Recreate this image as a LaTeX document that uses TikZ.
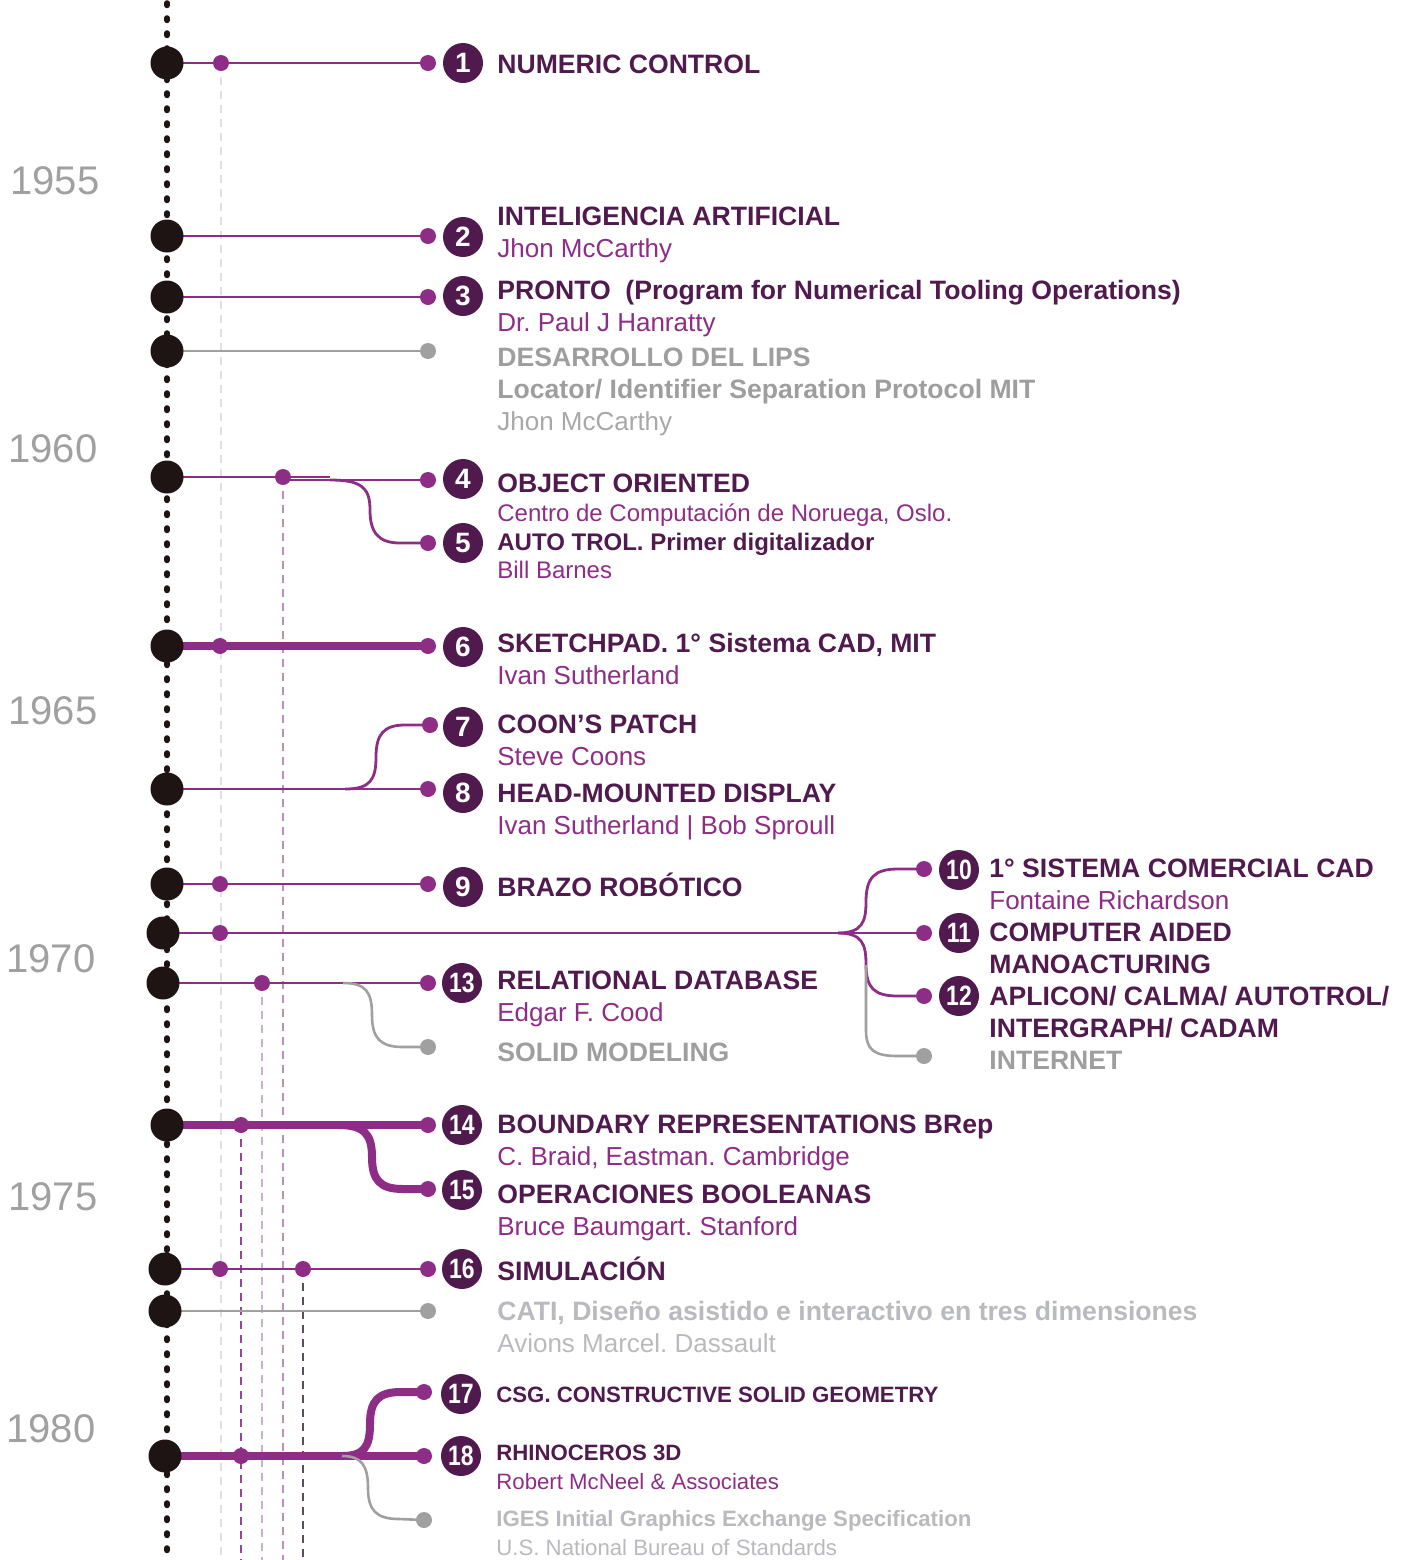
\documentclass[tikz,border=0pt]{standalone}
\usepackage{fontspec}
\usepackage{graphicx}
\setmainfont{Liberation Sans}
\pgfdeclarelayer{bg}
\pgfsetlayers{bg,main}
\definecolor{blk}{RGB}{30,20,20}
\definecolor{dpurp}{RGB}{80,26,78}
\definecolor{lpurp}{RGB}{142,45,134}
\definecolor{gline}{RGB}{160,160,160}
\definecolor{gtx}{RGB}{158,158,158}
\definecolor{gtx2}{RGB}{168,168,168}
\definecolor{gtx3}{RGB}{185,185,192}
\definecolor{gyear}{RGB}{160,160,160}
\tikzset{
 bigdot/.style={circle,fill=blk,minimum size=16.5pt,inner sep=0pt},
 pdot/.style={circle,fill=lpurp,minimum size=8pt,inner sep=0pt},
 gdot/.style={circle,fill=gline,minimum size=8pt,inner sep=0pt},
 num/.style={circle,fill=dpurp,minimum size=20pt,inner sep=0pt,text=white,font=\bfseries\fontsize{14}{14}\selectfont},
 ttl/.style={anchor=base west,inner sep=0pt,text=dpurp,font=\bfseries\fontsize{13.3}{15}\selectfont},
 sttl/.style={anchor=base west,inner sep=0pt,text=dpurp,font=\bfseries\fontsize{11.1}{13}\selectfont},
 sub/.style={anchor=base west,inner sep=0pt,text=lpurp,font=\fontsize{13}{15}\selectfont},
 ssub/.style={anchor=base west,inner sep=0pt,text=lpurp,font=\fontsize{11.1}{13}\selectfont},
 gttl/.style={ttl,text=gtx},
 gsub/.style={sub,text=gtx2},
 yr/.style={anchor=base west,inner sep=0pt,text=gyear,font=\fontsize{20}{22}\selectfont},
 pl/.style={draw=lpurp,line width=1.4pt},
 plk/.style={draw=lpurp,line width=4pt},
 gl/.style={draw=gline,line width=1.3pt},
 vdash/.style={line width=0.6pt,dash pattern=on 4pt off 3pt},
}
\newcommand{\dd}[1]{\scalebox{0.82}[1]{#1}}
\frenchspacing
\begin{document}
\frenchspacing
\begin{tikzpicture}[x=0.5pt,y=-0.5pt]
\useasboundingbox (0,0) rectangle (1410,1560);
\coordinate (top) at (167,3);
\coordinate (bot) at (167,1560);
% years
\node[yr] (y55) at (10,194) {1955};
\node[yr] (y60) at (8,462) {1960};
\node[yr] (y65) at (8,724) {1965};
\node[yr] (y70) at (6,972) {1970};
\node[yr] (y75) at (8,1210) {1975};
\node[yr] (y80) at (6,1442) {1980};
% row 1
\node[bigdot] (b1) at (167,63) {};
\node[pdot] (s1) at (221,63) {};
\node[pdot] (e1) at (428,63) {};
\node[num] (n1) at (463,63) {1};
\node[ttl] (t1) at (497,73) {NUMERIC CONTROL};
% row 2
\node[bigdot] (b2) at (167,236) {};
\node[pdot] (e2) at (428,236) {};
\node[num] (n2) at (463,237) {2};
\node[ttl] (t2) at (497,225) {INTELIGENCIA ARTIFICIAL};
\node[sub] (u2) at (497,257) {Jhon McCarthy};
% row 3
\node[bigdot] (b3) at (167,297) {};
\node[pdot] (e3) at (428,297) {};
\node[num] (n3) at (463,296) {3};
\node[ttl] (t3) at (497,299) {PRONTO\ \ (Program for Numerical Tooling Operations)};
\node[sub] (u3) at (497,331) {Dr. Paul J Hanratty};
% LIPS
\node[bigdot] (bL) at (167,351) {};
\node[gdot] (gL) at (428,351) {};
\node[gttl] (tL) at (497,366) {DESARROLLO DEL LIPS};
\node[gttl] (tL2) at (497,398) {Locator/ Identifier Separation Protocol MIT};
\node[gsub] (uL) at (497,430) {Jhon McCarthy};
% row 4/5
\node[bigdot] (b4) at (167,477) {};
\node[pdot] (s4) at (283,477) {};
\node[pdot] (e4) at (428,480) {};
\node[pdot] (e5) at (428,543) {};
\node[num] (n4) at (463,479) {4};
\node[num] (n5) at (463,543) {5};
\node[ttl] (t4) at (497,492) {OBJECT ORIENTED};
\node[sub,font=\fontsize{12}{14}\selectfont] (u4) at (497,521) {Centro de Computación de Noruega, Oslo.};
\node[ttl,font=\bfseries\fontsize{12}{14}\selectfont] (t5) at (497,550) {AUTO TROL. Primer digitalizador};
\node[sub,font=\fontsize{12}{14}\selectfont] (u5) at (497,578) {Bill Barnes};
\coordinate (k4a) at (330,477);
\coordinate (k4b) at (283,480);
\coordinate (k4c) at (330,480);
% row 6
\node[bigdot] (b6) at (167,646) {};
\node[pdot] (s6) at (220,646) {};
\node[pdot] (e6) at (428,646) {};
\node[num] (n6) at (463,647) {6};
\node[ttl] (t6) at (497,652) {SKETCHPAD. 1° Sistema CAD, MIT};
\node[sub] (u6) at (497,684) {Ivan Sutherland};
% row 7/8
\node[bigdot] (b8) at (167,789) {};
\node[pdot] (e8) at (428,789) {};
\node[pdot] (e7) at (430,725) {};
\node[num] (n7) at (463,727) {7};
\node[num] (n8) at (463,793) {8};
\node[ttl] (t7) at (497,733) {COON’S PATCH};
\node[sub] (u7) at (497,765) {Steve Coons};
\node[ttl] (t8) at (497,802) {HEAD-MOUNTED DISPLAY};
\node[sub] (u8) at (497,834) {Ivan Sutherland | Bob Sproull};
\coordinate (k8) at (345,789);
% row 9
\node[bigdot] (b9) at (167,884) {};
\node[pdot] (s9) at (220,884) {};
\node[pdot] (e9) at (428,884) {};
\node[num] (n9) at (463,887) {9};
\node[ttl] (t9) at (497,896) {BRAZO ROBÓTICO};
% row 10-12
\node[bigdot] (b11) at (163,933) {};
\node[pdot] (s11) at (220,933) {};
\node[pdot] (e11) at (924,933) {};
\node[pdot] (e10) at (924,869) {};
\node[pdot] (e12) at (924,996) {};
\node[gdot] (gI) at (924,1056) {};
\node[num] (n10) at (959,870) {\dd{10}};
\node[num] (n11) at (959,933) {\dd{11}};
\node[num] (n12) at (959,996) {\dd{12}};
\node[ttl] (t10) at (989,877) {1° SISTEMA COMERCIAL CAD};
\node[sub] (u10) at (989,909) {Fontaine Richardson};
\node[ttl] (t11) at (989,941) {COMPUTER AIDED};
\node[ttl] (t11b) at (989,973) {MANOACTURING};
\node[ttl] (t12) at (989,1005) {APLICON/ CALMA/ AUTOTROL/};
\node[ttl] (t12b) at (989,1037) {INTERGRAPH/ CADAM};
\node[gttl] (tI) at (989,1069) {INTERNET};
\coordinate (k11) at (838,933);
\coordinate (k11g) at (866,965);
% row 13
\node[bigdot] (b13) at (163,983) {};
\node[pdot] (s13) at (262,983) {};
\node[pdot] (e13) at (428,983) {};
\node[gdot] (gS) at (428,1047) {};
\node[num] (n13) at (462,983) {\dd{13}};
\node[ttl] (t13) at (497,989) {RELATIONAL DATABASE};
\node[sub] (u13) at (497,1021) {Edgar F. Cood};
\node[gttl] (tS) at (497,1061) {SOLID MODELING};
\coordinate (k13) at (343,983);
% row 14/15
\node[bigdot] (b14) at (167,1125) {};
\node[pdot] (s14) at (241,1125) {};
\node[pdot] (e14) at (428,1125) {};
\node[pdot] (e15) at (428,1189) {};
\node[num] (n14) at (462,1125) {\dd{14}};
\node[num] (n15) at (462,1190) {\dd{15}};
\node[ttl] (t14) at (497,1133) {BOUNDARY REPRESENTATIONS BRep};
\node[sub] (u14) at (497,1165) {C. Braid, Eastman. Cambridge};
\node[ttl] (t15) at (497,1203) {OPERACIONES BOOLEANAS};
\node[sub] (u15) at (497,1235) {Bruce Baumgart. Stanford};
\coordinate (k14) at (338,1125);
% row 16
\node[bigdot] (b16) at (165,1269) {};
\node[pdot] (s16) at (220,1269) {};
\node[pdot] (s16b) at (303,1269) {};
\node[pdot] (e16) at (428,1269) {};
\node[num] (n16) at (462,1269) {\dd{16}};
\node[ttl] (t16) at (497,1280) {SIMULACIÓN};
% CATI
\node[bigdot] (bC) at (165,1311) {};
\node[gdot] (gC) at (428,1311) {};
\node[gttl,text=gtx3] (tC) at (497,1320) {CATI, Diseño asistido e interactivo en tres dimensiones};
\node[gsub,text=gtx3] (uC) at (497,1352) {Avions Marcel. Dassault};
% row 17/18
\node[bigdot] (b18) at (165,1456) {};
\node[pdot] (s18) at (241,1456) {};
\node[pdot] (e18) at (424,1456) {};
\node[pdot] (e17) at (424,1392) {};
\node[gdot] (gG) at (424,1520) {};
\node[num] (n17) at (461,1394) {\dd{17}};
\node[num] (n18) at (461,1456) {\dd{18}};
\node[sttl] (t17) at (496,1402) {CSG. CONSTRUCTIVE SOLID GEOMETRY};
\node[sttl] (t18) at (496,1460) {RHINOCEROS 3D};
\node[ssub] (u18) at (496,1489) {Robert McNeel \& Associates};
\node[sttl,text=gtx3] (tG) at (496,1526) {IGES Initial Graphics Exchange Specification};
\node[ssub,text=gtx3] (uG) at (496,1555) {U.S. National Bureau of Standards};
\coordinate (k18) at (342,1456);
% bottom ends of dashed guides
\coordinate (d1) at (221,1560);
\coordinate (d4) at (283,1560);
\coordinate (d13) at (262,1560);
\coordinate (d14) at (241,1560);
\coordinate (d16) at (303,1560);

\begin{pgfonlayer}{bg}
% dashed guides
\draw[vdash,draw={rgb,255:red,228;green,220;blue,232}] (s1.center) -- (d1);
\draw[vdash,draw={rgb,255:red,185;green,145;blue,185}] (s4.center) -- (d4);
\draw[vdash,draw={rgb,255:red,205;green,175;blue,210}] (s13.center) -- (d13);
\draw[vdash,draw={rgb,255:red,150;green,70;blue,150}] (s14.center) -- (d14);
\draw[vdash,draw={rgb,255:red,95;green,75;blue,95}] (s16b.center) -- (d16);
% main dotted axis
\draw[blk,line width=2.8pt,line cap=round,dash pattern=on 1.2pt off 6.3pt] (top) -- (bot);
% connectors
\draw[pl] (b1.center) -- (e1.center);
\draw[pl] (b2.center) -- (e2.center);
\draw[pl] (b3.center) -- (e3.center);
\draw[gl] (bL.center) -- (gL.center);
\draw[pl] (b4.center) -- (k4a);
\draw[pl] (k4b) -- (e4.center);
\draw[pl] (k4c) .. controls (362,480) and (370,488) .. (370,510) .. controls (370,532) and (378,543) .. (400,543) -- (e5.center);
\draw[lpurp,line width=3.6pt] (b6.center) -- (e6.center);
\draw[pl] (b8.center) -- (e8.center);
\draw[pl] (k8) .. controls (370,789) and (376,780) .. (376,757) .. controls (376,734) and (384,725) .. (405,725) -- (e7.center);
\draw[pl] (b9.center) -- (e9.center);
\draw[pl] (b11.center) -- (e11.center);
\draw[pl] (k11) .. controls (862,933) and (866,922) .. (866,902) .. controls (866,878) and (874,869) .. (898,869) -- (e10.center);
\draw[pl] (k11) .. controls (862,933) and (866,944) .. (866,964) .. controls (866,988) and (874,996) .. (898,996) -- (e12.center);
\draw[gl] (k11g) -- (866,1030) .. controls (866,1050) and (874,1056) .. (898,1056) -- (gI.center);
\draw[pl] (b13.center) -- (e13.center);
\draw[gl] (k13) .. controls (366,983) and (372,992) .. (372,1015) .. controls (372,1038) and (380,1047) .. (403,1047) -- (gS.center);
\draw[plk] (b14.center) -- (e14.center);
\draw[plk] (k14) .. controls (364,1125) and (372,1134) .. (372,1157) .. controls (372,1180) and (380,1189) .. (403,1189) -- (e15.center);
\draw[pl] (b16.center) -- (e16.center);
\draw[gl] (bC.center) -- (gC.center);
\draw[plk] (b18.center) -- (e18.center);
\draw[plk] (k18) .. controls (364,1456) and (370,1447) .. (370,1424) .. controls (370,1401) and (378,1392) .. (401,1392) -- (e17.center);
\draw[gl] (k18) .. controls (362,1456) and (368,1466) .. (368,1488) .. controls (368,1510) and (376,1519) .. (399,1519) -- (gG.center);
\end{pgfonlayer}
\end{tikzpicture}
\end{document}
